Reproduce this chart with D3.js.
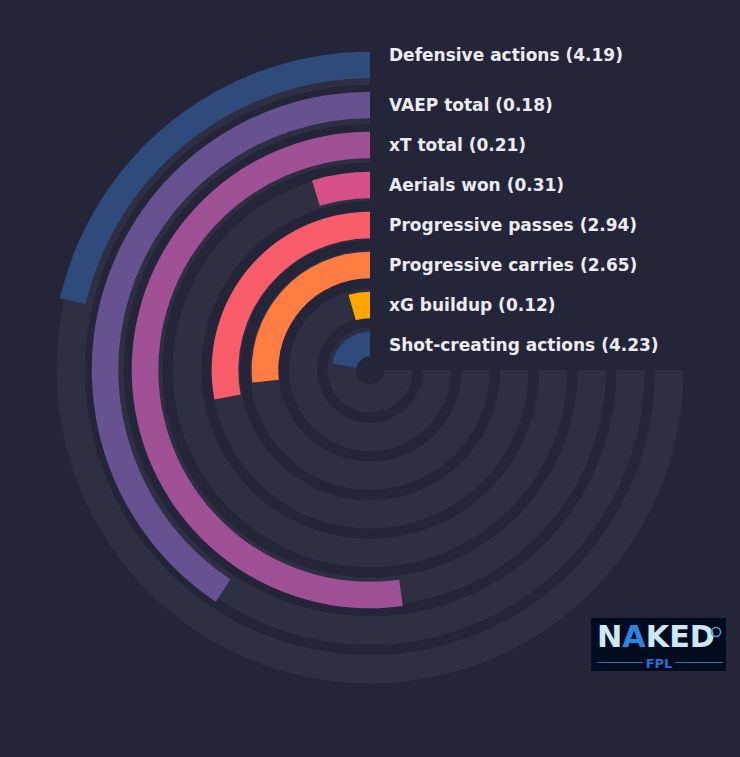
<!DOCTYPE html>
<html>
<head>
<meta charset="utf-8">
<script src="https://cdn.jsdelivr.net/npm/d3@7"></script>
<style>
html,body{margin:0;padding:0;background:#252539;}
svg{display:block;}
</style>
</head>
<body>
<svg id="chart" width="740" height="757"></svg>
<script>
// Data
const categories = ["Defensive actions","VAEP total","xT total","Aerials won","Progressive passes","Progressive carries","xG buildup","Shot-creating actions"];
const rawValues = [4.19, 0.18, 0.21, 0.31, 2.94, 2.65, 0.12, 4.23];
const percentiles = [28.5, 54.2, 69.6, 6.3, 37.3, 35.6, 5.9, 29.7];
const palette = ["#2f4b7c","#665191","#a05195","#d45087","#f95d6a","#ff7c43","#ffa600"];

const W = 740, H = 757;
const cx = 370, cy = 370;
const svg = d3.select("#chart");
svg.append("rect").attr("width", W).attr("height", H).attr("fill", "#252539");

const g = svg.append("g").attr("transform", `translate(${cx},${cy})`);

const idx = d3.range(categories.length);
// radial scales (outer radius per ring)
const barOuter = d3.scaleLinear().domain([0, 7]).range([318.3, 38.3]);
const trackOuter = d3.scaleLinear().domain([0, 7]).range([313.5, 42.5]);
const barWidth = 26.6, trackWidth = 28.5;
const angle = d3.scaleLinear().domain([0, 100]).range([0, -1.5 * Math.PI]);

const arc = d3.arc();

// background tracks
g.selectAll("path.track").data(idx).join("path")
  .attr("class", "track")
  .attr("fill", "#2f2f43")
  .attr("d", i => arc({innerRadius: trackOuter(i) - trackWidth, outerRadius: trackOuter(i), startAngle: angle(0), endAngle: angle(100)}));

// bars
g.selectAll("path.bar").data(idx).join("path")
  .attr("class", "bar")
  .attr("fill", i => palette[i % palette.length])
  .attr("d", i => arc({innerRadius: barOuter(i) - barWidth, outerRadius: barOuter(i), startAngle: angle(0), endAngle: angle(percentiles[i])}));

// center hole
g.append("circle").attr("r", 13.5).attr("fill", "#252539");

// labels
g.selectAll("text.lbl").data(idx).join("text")
  .attr("class", "lbl")
  .attr("x", 19)
  .attr("y", i => -(barOuter(i) - barWidth / 2) - (i === 0 ? 10 : 0))
  .attr("dy", "0.35em")
  .attr("fill", "#ececf0")
  .attr("font-family", "DejaVu Sans, sans-serif")
  .attr("font-weight", "bold")
  .attr("font-size", 17)
  .text(i => `${categories[i]} (${rawValues[i].toFixed(2)})`);

// logo
const logo = svg.append("g").attr("transform", "translate(591,618)");
logo.append("rect").attr("width", 135).attr("height", 53).attr("fill", "#030b1e");
logo.append("text").attr("x", 6).attr("y", 29)
  .attr("font-family", "DejaVu Sans, sans-serif").attr("font-weight", "bold").attr("font-size", 31)
  .attr("textLength", 118).attr("lengthAdjust", "spacingAndGlyphs")
  .selectAll("tspan").data(["N","A","KED"]).join("tspan")
  .attr("fill", d => d === "A" ? "#2b86e0" : "#cde7f7")
  .text(d => d);
logo.append("circle").attr("cx", 125).attr("cy", 14).attr("r", 4.5).attr("fill", "none").attr("stroke", "#3aa0e8").attr("stroke-width", 1.5);
logo.append("line").attr("x1", 6).attr("x2", 52).attr("y1", 44.5).attr("y2", 44.5).attr("stroke", "#2a6fc9").attr("stroke-width", 1);
logo.append("line").attr("x1", 84).attr("x2", 132).attr("y1", 44.5).attr("y2", 44.5).attr("stroke", "#2a6fc9").attr("stroke-width", 1);
logo.append("text").attr("x", 68).attr("y", 50).attr("text-anchor", "middle")
  .attr("font-family", "DejaVu Sans, sans-serif").attr("font-weight", "bold").attr("font-size", 13)
  .attr("fill", "#2a6fd0").text("FPL");
</script>
</body>
</html>
